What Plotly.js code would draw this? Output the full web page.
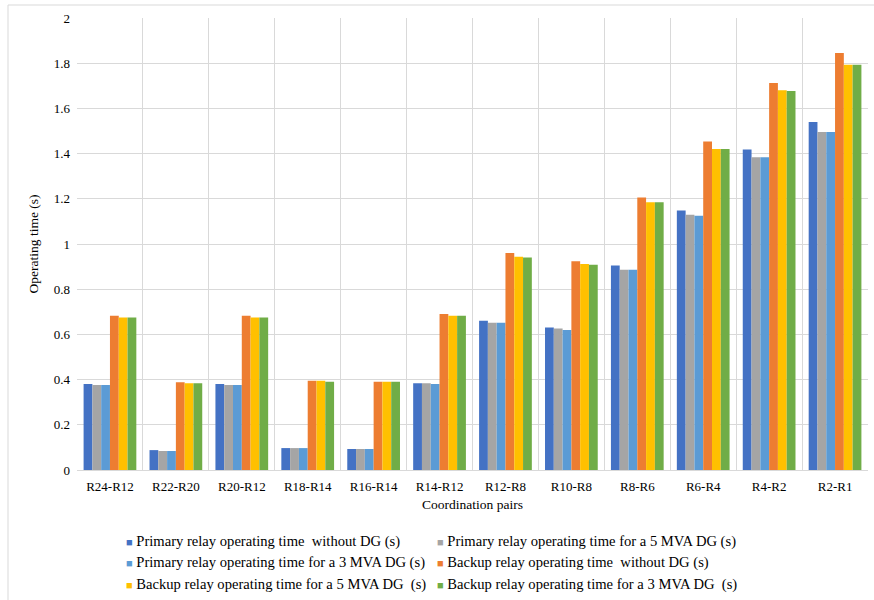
<!DOCTYPE html>
<html>
<head>
<meta charset="utf-8">
<script src="https://cdn.plot.ly/plotly-3.0.1.min.js"></script>
<style>
  html, body { margin: 0; padding: 0; background: #ffffff; }
  #chart { width: 874px; height: 600px; }
</style>
</head>
<body>
<div id="chart"></div>
<script>
// Coordination pairs (primary - backup relay)
const pairs = ["R24-R12", "R22-R20", "R20-R12", "R18-R14", "R16-R14", "R14-R12",
               "R12-R8", "R10-R8", "R8-R6", "R6-R4", "R4-R2", "R2-R1"];

// Operating times in seconds
const primaryNoDG   = [0.380, 0.088, 0.380, 0.097, 0.093, 0.384, 0.660, 0.630, 0.905, 1.148, 1.418, 1.540];
const primary5MVA   = [0.376, 0.084, 0.376, 0.097, 0.093, 0.384, 0.651, 0.626, 0.886, 1.129, 1.384, 1.496];
const primary3MVA   = [0.376, 0.084, 0.376, 0.097, 0.093, 0.380, 0.651, 0.620, 0.886, 1.125, 1.384, 1.496];
const backupNoDG    = [0.682, 0.388, 0.682, 0.395, 0.391, 0.690, 0.960, 0.924, 1.206, 1.454, 1.712, 1.845];
const backup5MVA    = [0.675, 0.384, 0.675, 0.395, 0.391, 0.682, 0.944, 0.912, 1.185, 1.420, 1.680, 1.793];
const backup3MVA    = [0.675, 0.384, 0.675, 0.391, 0.391, 0.682, 0.940, 0.908, 1.185, 1.420, 1.677, 1.793];

const seriesNames = [
  "Primary relay operating time  without DG (s)",
  "Primary relay operating time for a 5 MVA DG (s)",
  "Primary relay operating time for a 3 MVA DG (s)",
  "Backup relay operating time  without DG (s)",
  "Backup relay operating time for a 5 MVA DG  (s)",
  "Backup relay operating time for a 3 MVA DG  (s)"
];
const seriesValues = [primaryNoDG, primary5MVA, primary3MVA, backupNoDG, backup5MVA, backup3MVA];
const seriesColors = ["#4472C4", "#A5A5A5", "#5B9BD5", "#ED7D31", "#FFC000", "#70AD47"];

const traces = seriesNames.map((name, i) => ({
  type: "bar",
  name: name,
  x: pairs,
  y: seriesValues[i],
  marker: { color: seriesColors[i], line: { width: 0 } },
  hoverinfo: "x+y+name"
}));

const serif = "'Liberation Serif', 'Times New Roman', serif";

// Plot area geometry (pixels) used to place the two-column key below the axis
const W = 874, H = 600;
const M = { l: 77, r: 6, t: 18, b: 130 };
const plotW = W - M.l - M.r, plotH = H - M.t - M.b;
const px2x = px => (px - M.l) / plotW;
const py2y = py => (H - M.b - py) / plotH;

const keyColumns = [124, 435];
const keyRows = [541, 562, 584];
const keyAnnotations = seriesNames.map((name, i) => ({
  xref: "paper", yref: "paper",
  x: px2x(keyColumns[i % 2]), y: py2y(keyRows[Math.floor(i / 2)]),
  xanchor: "left", yanchor: "middle",
  showarrow: false, align: "left",
  text: '<span style="color:' + seriesColors[i] + ';font-size:11px">■</span> ' + name,
  font: { family: serif, size: 14.6, color: "#000000" }
}));

const layout = {
  width: W,
  height: H,
  paper_bgcolor: "#ffffff",
  plot_bgcolor: "#ffffff",
  margin: { l: M.l, r: M.r, t: M.t, b: M.b, autoexpand: false },
  font: { family: serif, color: "#000000", size: 13 },
  showlegend: false,
  barmode: "group",
  bargap: 0.2,
  bargroupgap: 0,
  xaxis: {
    type: "category",
    tickson: "boundaries",
    showgrid: true,
    gridcolor: "#d9d9d9",
    gridwidth: 1,
    showline: true,
    linecolor: "#d9d9d9",
    linewidth: 1,
    ticks: "",
    ticklabelstandoff: 4,
    tickfont: { family: serif, size: 13, color: "#000000" },
    title: { text: "Coordination pairs", font: { family: serif, size: 13.5, color: "#000000" }, standoff: 6 },
    automargin: false
  },
  yaxis: {
    range: [0, 2],
    dtick: 0.2,
    showgrid: true,
    gridcolor: "#d9d9d9",
    gridwidth: 1,
    zeroline: false,
    showline: false,
    ticks: "",
    ticklabelstandoff: 6,
    tickfont: { family: serif, size: 13, color: "#000000" },
    title: { text: "Operating time (s)", font: { family: serif, size: 13.5, color: "#000000" }, standoff: 12 },
    automargin: false
  },
  annotations: keyAnnotations,
  shapes: [
    {
      type: "rect", xref: "paper", yref: "paper",
      x0: px2x(8), x1: 1.05, y0: -0.4, y1: py2y(5),
      line: { color: "#d9d9d9", width: 1 }, fillcolor: "rgba(0,0,0,0)", layer: "below"
    }
  ]
};

Plotly.newPlot("chart", traces, layout, { displayModeBar: false, staticPlot: true });
</script>
</body>
</html>
